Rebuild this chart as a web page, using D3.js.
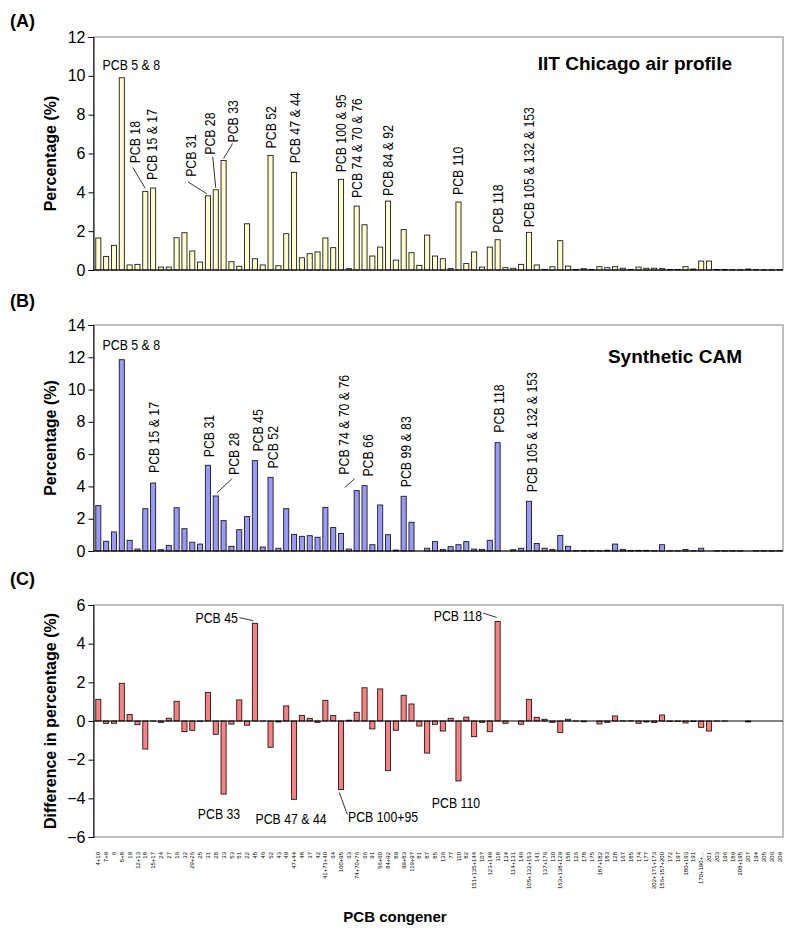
<!DOCTYPE html>
<html><head><meta charset="utf-8">
<script src="https://cdn.jsdelivr.net/npm/d3@7"></script>
<style>
body{margin:0;background:#fff}
svg{display:block}
text{font-family:"Liberation Sans",Arial,sans-serif;fill:#000}
.ann{font-family:"Liberation Sans",Arial,sans-serif;font-size:15px}
</style>
</head><body>
<svg id="c" width="800" height="939"></svg>
<script>
const categories = ["4+10","7+9","6","5+8","19","12+13","18","15+17","24","27","16","32","29+26","25","31","28","33","53","51","22","45","46","52","43","49","47+44","48","37","42","41+71+40","64","100+95","63","74+70+76","66","91","56+60","84+92","89","99+83","119+97","81","87","85","136","77","110","82","151+135+144","107","123+149","118","134","114+131","146","105+132+153","141","137+176","130","163+138+129","158","126","178","175","187+182","183","128","167","185","174","177","202+171+173","156+157+200","172","197","180+193","191","170+190+...","201","203","196","189","208+195","207","194","205","206","209"];

const airProfile = [1.65,0.70,1.27,9.90,0.26,0.29,4.05,4.22,0.15,0.15,
 1.66,1.92,0.98,0.41,3.82,4.13,5.64,0.43,0.19,2.38,
 0.58,0.26,5.90,0.22,1.87,5.03,0.63,0.84,0.93,1.65,
 1.15,4.67,0.07,3.29,2.33,0.72,1.18,3.55,0.51,2.08,
 0.89,0.24,1.80,0.72,0.58,0.07,3.50,0.33,0.93,0.15,
 1.18,1.56,0.12,0.09,0.29,1.94,0.26,0.03,0.17,1.51,
 0.20,0.03,0.07,0.03,0.17,0.12,0.17,0.09,0.03,0.15,
 0.09,0.09,0.07,0.03,0.03,0.17,0.05,0.46,0.46,0.03,
 0.03,0.02,0.02,0.05,0.02,0.02,0.02,0.02];

const syntheticCAM = [2.81,0.60,1.18,11.85,0.66,0.12,2.62,4.21,0.08,0.35,
 2.68,1.38,0.54,0.43,5.31,3.41,1.88,0.29,1.32,2.13,
 5.60,0.25,4.56,0.17,2.62,1.03,0.91,0.95,0.85,2.70,
 1.45,1.09,0.12,3.74,4.05,0.39,2.85,1.01,0.06,3.39,
 1.78,0.00,0.17,0.58,0.10,0.27,0.39,0.58,0.12,0.10,
 0.66,6.71,0.00,0.08,0.17,3.08,0.47,0.17,0.10,0.97,
 0.29,0.02,0.03,0.03,0.02,0.05,0.43,0.10,0.04,0.04,
 0.04,0.02,0.39,0.01,0.01,0.10,0.02,0.17,0.00,0.02,
 0.02,0.02,0.02,0.00,0.02,0.02,0.02,0.02];

const difference = [1.12,-0.12,-0.12,1.95,0.34,-0.19,-1.45,-0.01,-0.07,0.14,
 1.02,-0.55,-0.48,-0.02,1.48,-0.69,-3.78,-0.16,1.09,-0.22,
 5.05,-0.01,-1.36,-0.05,0.78,-4.05,0.29,0.14,-0.07,1.07,
 0.29,-3.55,0.04,0.45,1.72,-0.41,1.66,-2.57,-0.48,1.33,
 0.88,-0.26,-1.66,-0.17,-0.52,0.14,-3.10,0.20,-0.81,-0.07,
 -0.55,5.15,-0.12,0.00,-0.17,1.12,0.19,0.09,-0.07,-0.59,
 0.09,-0.01,-0.04,0.00,-0.15,-0.07,0.26,0.01,0.01,-0.12,
 -0.05,-0.08,0.31,-0.02,-0.02,-0.10,-0.03,-0.33,-0.52,-0.01,
 -0.01,0.00,0.00,-0.05,0.00,0.00,0.00,0.00];

const ticksA = [0,2,4,6,8,10,12];
const ticksB = [0,2,4,6,8,10,12,14];
const ticksC = [-6,-4,-2,0,2,4,6];

const annotationsA = [
 {t:"PCB 5 & 8", cat:"5+8", rot:false, anchor:"middle", dx:9.5, dy:-8},
 {t:"PCB 18", cat:"18", rot:true, dx:-11, dy:-28, leader:[[-12.6,-24],[0,-3]]},
 {t:"PCB 15 & 17", cat:"15+17", rot:true, dx:-1, dy:-8},
 {t:"PCB 31", cat:"31", rot:true, dx:-17, dy:-19, leader:[[-20,-14],[-1,-2]]},
 {t:"PCB 28", cat:"28", rot:true, dx:-6, dy:-35, leader:[[-3,-33],[0,-2]]},
 {t:"PCB 33", cat:"33", rot:true, dx:9, dy:-18, leader:[[9,-17],[0,-2]]},
 {t:"PCB 52", cat:"52", rot:true, dx:0, dy:-7},
 {t:"PCB 47 & 44", cat:"47+44", rot:true, dx:1, dy:-9},
 {t:"PCB 100 & 95", cat:"100+95", rot:true, dx:0, dy:-7},
 {t:"PCB 74 & 70 & 76", cat:"74+70+76", rot:true, dx:0, dy:-8},
 {t:"PCB 84 & 92", cat:"84+92", rot:true, dx:0, dy:-5},
 {t:"PCB 110", cat:"110", rot:true, dx:-1, dy:-7},
 {t:"PCB 118", cat:"118", rot:true, dx:0, dy:-7},
 {t:"PCB 105 & 132 & 153", cat:"105+132+153", rot:true, dx:0, dy:-5}
];
const annotationsB = [
 {t:"PCB 5 & 8", cat:"5+8", rot:false, anchor:"middle", dx:9.5, dy:-10},
 {t:"PCB 15 & 17", cat:"15+17", rot:true, dx:1, dy:-10},
 {t:"PCB 31", cat:"31", rot:true, dx:0.5, dy:-8},
 {t:"PCB 28", cat:"28", rot:true, dx:18, dy:-21, leader:[[16,-17],[1,-3]]},
 {t:"PCB 45", cat:"45", rot:true, dx:2.5, dy:-9},
 {t:"PCB 52", cat:"52", rot:true, dx:2, dy:-9},
 {t:"PCB 74 & 70 & 76", cat:"74+70+76", rot:true, dx:-13, dy:-16, leader:[[-12,-3],[-2,-12]]},
 {t:"PCB 66", cat:"66", rot:true, dx:3, dy:-9},
 {t:"PCB 99 & 83", cat:"99+83", rot:true, dx:2, dy:-9},
 {t:"PCB 118", cat:"118", rot:true, dx:1, dy:-10},
 {t:"PCB 105 & 132 & 153", cat:"105+132+153", rot:true, dx:2.5, dy:-9}
];
const annotationsC = [
 {t:"PCB 45", cat:"45", rot:false, anchor:"end", dx:-17, dy:0, leader:[[-15.6,-5.7],[-1.6,-2.7]]},
 {t:"PCB 33", cat:"33", rot:false, anchor:"middle", dx:-4.6, dy:25},
 {t:"PCB 47 & 44", cat:"47+44", rot:false, anchor:"middle", dx:-3, dy:25},
 {t:"PCB 100+95", cat:"100+95", rot:false, anchor:"start", dx:7, dy:32, leader:[[-1.7,3],[6.3,25]]},
 {t:"PCB 118", cat:"118", rot:false, anchor:"end", dx:-15.6, dy:0, leader:[[-14.6,-8.4],[-1,-4]]},
 {t:"PCB 110", cat:"110", rot:false, anchor:"middle", dx:-2.5, dy:27}
];

const svg = d3.select("#c");
const X0 = 93.5, X1 = 783;
const NARROW = 0.82;
const x = d3.scaleBand().domain(categories).range([94.4, 783.4]).paddingInner(0.35).paddingOuter(0.175);

const panels = [
 {values:airProfile, domain:[0,12], range:[270,37], ticks:ticksA, fill:"#FFFFCC", ytitle:"Percentage (%)", label:"(A)", labelY:27, title:"IIT Chicago air profile", titleX:732, titleY:70, ann:annotationsA},
 {values:syntheticCAM, domain:[0,14], range:[551,325], ticks:ticksB, fill:"#9999FF", ytitle:"Percentage (%)", label:"(B)", labelY:307, title:"Synthetic CAM", titleX:742, titleY:363, ann:annotationsB},
 {values:difference, domain:[-6,6], range:[837,605], ticks:ticksC, fill:"#FF8080", ytitle:"Difference in percentage (%)", label:"(C)", labelY:585, ann:annotationsC}
];

panels.forEach(p => {
  const y = d3.scaleLinear().domain(p.domain).range(p.range);
  const g = svg.append("g");
  g.append("rect").attr("x", X0).attr("y", p.range[1]).attr("width", X1 - X0).attr("height", p.range[0] - p.range[1])
    .attr("fill", "none").attr("stroke", "#808080").attr("stroke-width", 1);
  const data = categories.map((c, i) => ({c, v: p.values[i]}));
  g.selectAll("rect.bar").data(data).join("rect").attr("class", "bar")
    .attr("x", d => x(d.c))
    .attr("width", x.bandwidth())
    .attr("y", d => y(Math.max(0, d.v)))
    .attr("height", d => Math.abs(y(d.v) - y(0)))
    .attr("fill", p.fill).attr("stroke", "#1a1a1a").attr("stroke-width", 0.9);
  g.append("line").attr("x1", X0).attr("x2", X1).attr("y1", y(0)).attr("y2", y(0)).attr("stroke", "#000").attr("stroke-width", 1);
  const ax = g.append("g").attr("transform", `translate(${X0},0)`)
    .call(d3.axisLeft(y).tickValues(p.ticks).tickSize(5).tickPadding(3).tickFormat(d3.format("d")));
  ax.select(".domain").attr("stroke", "#000");
  ax.selectAll(".tick line").attr("stroke", "#000");
  ax.selectAll(".tick text").attr("font-size", 16).attr("font-family", "Liberation Sans, Arial, sans-serif");
  const cy = (p.range[0] + p.range[1]) / 2;
  g.append("text").attr("transform", `translate(50,${cy}) rotate(-90)`).attr("text-anchor", "middle")
    .attr("dy", "0.35em").attr("font-size", 16).attr("font-weight", "bold").text(p.ytitle);
  g.append("text").attr("x", 10).attr("y", p.labelY).attr("font-size", 18).attr("font-weight", "bold").text(p.label);
  if (p.title) {
    g.append("text").attr("x", p.titleX).attr("y", p.titleY).attr("text-anchor", "end")
      .attr("font-size", 19).attr("font-weight", "bold").text(p.title);
  }
  p.ann.forEach(a => {
    const i = categories.indexOf(a.cat);
    const v = p.values[i];
    const cx = x(a.cat) + x.bandwidth() / 2;
    const ey = y(v);
    const tx = cx + a.dx, ty = ey + a.dy;
    if (a.rot) {
      g.append("text").attr("class", "ann").attr("transform", `translate(${tx},${ty}) rotate(-90) scale(${NARROW},1)`)
        .attr("text-anchor", "start").attr("dy", "0.35em").text(a.t);
    } else {
      g.append("text").attr("class", "ann").attr("transform", `translate(${tx},${ty}) scale(${NARROW},1)`)
        .attr("text-anchor", a.anchor).text(a.t);
    }
    if (a.leader) {
      g.append("line").attr("x1", cx + a.leader[0][0]).attr("y1", ey + a.leader[0][1])
        .attr("x2", cx + a.leader[1][0]).attr("y2", ey + a.leader[1][1])
        .attr("stroke", "#000").attr("stroke-width", 0.8);
    }
  });
});

svg.append("g").selectAll("text").data(categories).join("text")
  .attr("transform", d => `translate(${x(d) + x.bandwidth() / 2},852) rotate(-90)`)
  .attr("text-anchor", "end").attr("dy", "0.35em").attr("font-size", 6).attr("fill", "#222").text(d => d);

svg.append("text").attr("x", 395).attr("y", 922).attr("text-anchor", "middle").attr("font-size", 15)
  .attr("font-weight", "bold").text("PCB congener");
</script>
</body></html>
